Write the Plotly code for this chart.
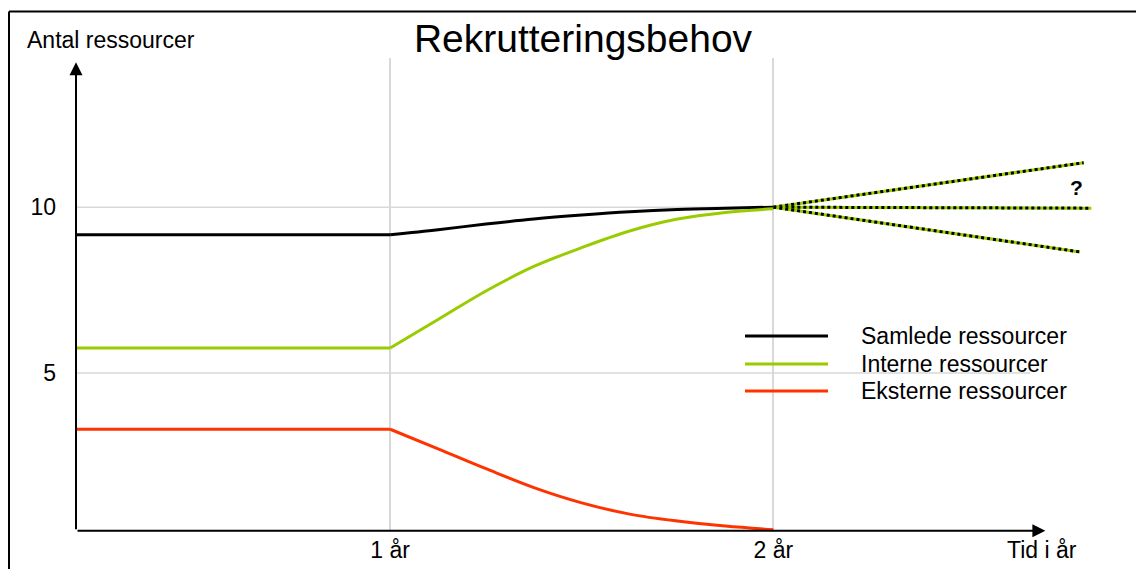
import plotly.graph_objects as go

# ---------------- data ----------------
t_flat = [0.18, 1.0]
t_curve = [1.0, 1.125, 1.25, 1.375, 1.5, 1.625, 1.75, 1.875, 2.0]
samlede = [9.17, 9.32, 9.49, 9.64, 9.76, 9.86, 9.93, 9.97, 10.0]
interne = [5.75, 6.61, 7.47, 8.21, 8.78, 9.28, 9.64, 9.84, 9.95]
eksterne = [3.30, 2.71, 2.11, 1.54, 1.08, 0.74, 0.53, 0.38, 0.27]

proj_start_x = 2.0
proj_start_y = 10.0
proj_end_x = [2.81, 2.83, 2.80]
proj_end_y = [11.34, 9.97, 8.65]

series_names = ["Samlede ressourcer", "Interne ressourcer", "Eksterne ressourcer"]
x_tickvals = [1, 2]
x_ticktext = ["1 år", "2 år"]
y_tickvals = [5, 10]
y_ticktext = ["5", "10"]

# ---------------- style ----------------
FONT = "Liberation Sans, Arial, sans-serif"
BLACK = "#000000"
GREEN = "#99cc00"
RED = "#ff3300"
GRID = "#d9d9d9"
LW = 3
FS = 23

W, H = 1136, 561
ML, MR, MT, MB = 68, 45, 50, 37
XR = [0.18, 2.85]
YR = [0.2, 14.5]
PW = W - ML - MR
PH = H - MT - MB


def xp(px):
    return (px - ML) / PW


def yp(py):
    return (H - MB - py) / PH


fig = go.Figure()

colors = [BLACK, GREEN, RED]
vals = [samlede, interne, eksterne]
for i, (name, col, v) in enumerate(zip(series_names, colors, vals)):
    fig.add_trace(go.Scatter(
        x=t_flat, y=[v[0], v[0]], mode="lines",
        line=dict(color=col, width=LW), name=name,
        legendgroup=name, showlegend=False, hoverinfo="skip"))
    fig.add_trace(go.Scatter(
        x=t_curve, y=v, mode="lines",
        line=dict(color=col, width=LW, shape="spline", smoothing=1.0),
        name=name, legendgroup=name, showlegend=False, hoverinfo="skip"))

# projections: green solid underneath, black dots above
for ex, ey in zip(proj_end_x, proj_end_y):
    fig.add_trace(go.Scatter(
        x=[proj_start_x, ex], y=[proj_start_y, ey], mode="lines",
        line=dict(color=GREEN, width=LW), showlegend=False, hoverinfo="skip"))
    fig.add_trace(go.Scatter(
        x=[proj_start_x, ex], y=[proj_start_y, ey], mode="lines",
        line=dict(color=BLACK, width=LW, dash="3px,3px"),
        showlegend=False, hoverinfo="skip"))

# horizontal grid lines (end before the arrow)
for yv in y_tickvals:
    fig.add_shape(type="line", xref="x", yref="y", x0=XR[0], x1=2.67,
                  y0=yv, y1=yv, line=dict(color=GRID, width=1.5), layer="below")

# frame (top and left edges)
fig.add_shape(type="line", xref="paper", yref="paper",
              x0=xp(1), x1=xp(W + 10), y0=yp(3.5), y1=yp(3.5),
              line=dict(color=BLACK, width=2))
fig.add_shape(type="line", xref="paper", yref="paper",
              x0=xp(1), x1=xp(1), y0=yp(3.5), y1=yp(H + 10),
              line=dict(color=BLACK, width=2))

annotations = [
    dict(x=XR[0], y=14.37, ax=XR[0], ay=0.24, xref="x", yref="y", axref="x", ayref="y",
         text="", showarrow=True, arrowhead=2, arrowsize=1.3, arrowwidth=2, arrowcolor=BLACK),
    dict(x=2.71, y=0.24, ax=XR[0], ay=0.24, xref="x", yref="y", axref="x", ayref="y",
         text="", showarrow=True, arrowhead=2, arrowsize=1.3, arrowwidth=2, arrowcolor=BLACK),
    dict(x=xp(17), y=yp(32), xref="paper", yref="paper", xanchor="left", yanchor="middle",
         text="Antal ressourcer", showarrow=False, font=dict(family=FONT, size=FS, color=BLACK)),
    dict(x=2.70, y=yp(542), xref="x", yref="paper", xanchor="center", yanchor="middle",
         text="Tid i år", showarrow=False, font=dict(family=FONT, size=FS, color=BLACK)),
    dict(x=2.79, y=10.6, xref="x", yref="y", xanchor="center", yanchor="middle",
         text="<b>?</b>", showarrow=False, font=dict(family=FONT, size=21, color=BLACK)),
]

# legend (drawn as keys + labels for exact spacing)
LEG_ROWS = [328, 356, 383]
for name, col, ry in zip(series_names, colors, LEG_ROWS):
    fig.add_shape(type="line", xref="paper", yref="paper",
                  x0=xp(737), x1=xp(820), y0=yp(ry), y1=yp(ry),
                  line=dict(color=col, width=LW))
    annotations.append(dict(x=xp(851), y=yp(ry), xref="paper", yref="paper",
                            xanchor="left", yanchor="middle", text=name, showarrow=False,
                            font=dict(family=FONT, size=FS, color=BLACK)))

fig.update_layout(
    width=W, height=H,
    margin=dict(l=ML, r=MR, t=MT, b=MB, autoexpand=False),
    paper_bgcolor="white", plot_bgcolor="white",
    title=dict(text="Rekrutteringsbehov", x=575 / W, xanchor="center",
               y=1 - 30 / H, yanchor="middle",
               font=dict(family=FONT, size=39, color=BLACK)),
    font=dict(family=FONT, color=BLACK),
    showlegend=False,
    annotations=annotations,
)

fig.update_xaxes(range=XR, tickvals=x_tickvals, ticktext=x_ticktext,
                 showgrid=True, gridcolor=GRID, gridwidth=1.5,
                 zeroline=False, showline=False, ticks="",
                 ticklabelstandoff=2,
                 tickfont=dict(family=FONT, size=FS, color=BLACK))
fig.update_yaxes(range=YR, tickvals=y_tickvals, ticktext=y_ticktext,
                 showgrid=False, zeroline=False, showline=False, ticks="",
                 ticklabelstandoff=19,
                 tickfont=dict(family=FONT, size=FS, color=BLACK))

fig.write_html("out.html")
